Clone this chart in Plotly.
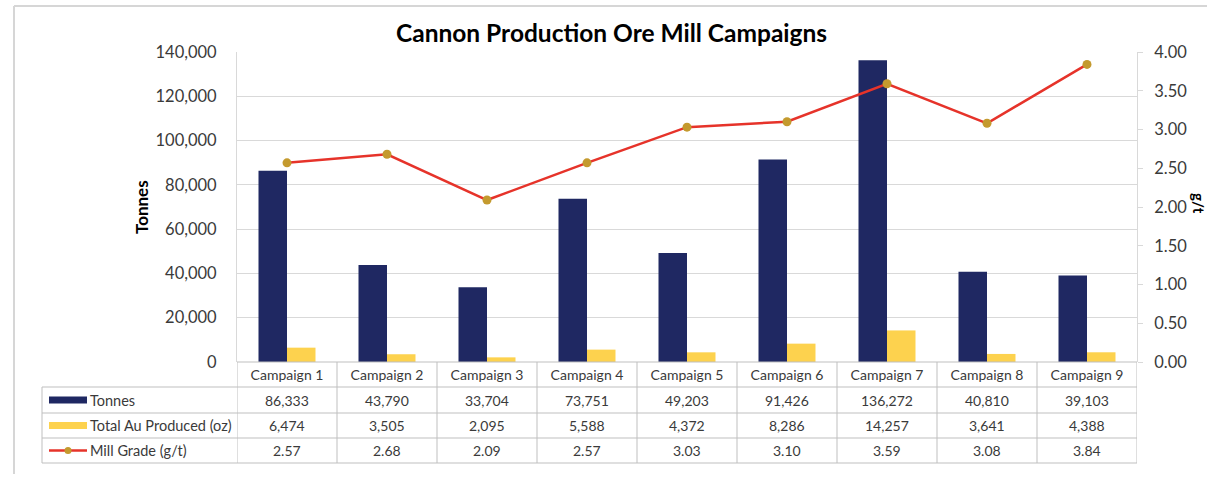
import plotly.graph_objects as go

# ---------------- data ----------------
categories = ["Campaign 1", "Campaign 2", "Campaign 3", "Campaign 4", "Campaign 5",
              "Campaign 6", "Campaign 7", "Campaign 8", "Campaign 9"]
tonnes = [86333, 43790, 33704, 73751, 49203, 91426, 136272, 40810, 39103]
gold_oz = [6474, 3505, 2095, 5588, 4372, 8286, 14257, 3641, 4388]
grade = [2.57, 2.68, 2.09, 2.57, 3.03, 3.10, 3.59, 3.08, 3.84]
series_names = ["Tonnes", "Total Au Produced (oz)", "Mill Grade (g/t)"]
left_ticks = [0, 20000, 40000, 60000, 80000, 100000, 120000, 140000]
right_ticks = [0, 0.5, 1.0, 1.5, 2.0, 2.5, 3.0, 3.5, 4.0]

# ---------------- style / layout ----------------
W, H = 1207, 477
L, R, T, B = 237, 1137, 52, 362
FONT = "Lato"
NAVY = "#1F2862"
YELLOW = "#FDD24E"
RED = "#E6332A"
MARK = "#C49A2E"
GRID = "#D9D9D9"
TXT = "#3A3A3A"
TLINE = "#BFBFBF"


def px(x):
    return (x - L) / (R - L)


def py(y):
    return (B - y) / (B - T)


fig = go.Figure()
fig.add_trace(go.Bar(x=categories, y=tonnes, name=series_names[0],
                     marker=dict(color=NAVY, line=dict(width=0))))
fig.add_trace(go.Bar(x=categories, y=gold_oz, name=series_names[1],
                     marker=dict(color=YELLOW, line=dict(width=0))))
fig.add_trace(go.Scatter(x=categories, y=grade, name=series_names[2], yaxis="y2",
                         mode="lines+markers",
                         line=dict(color=RED, width=2.5),
                         marker=dict(color=MARK, size=9)))

shapes = []
annotations = []

# outer chart border (left and top edges visible)
shapes.append(dict(type="line", xref="paper", yref="paper", x0=px(14), x1=px(W + 5),
                   y0=py(6), y1=py(6), line=dict(color="#D6D6D6", width=2)))
shapes.append(dict(type="line", xref="paper", yref="paper", x0=px(14), x1=px(14),
                   y0=py(6), y1=py(474), line=dict(color="#D6D6D6", width=2)))

# data table grid
row_y = [387, 413, 438, 463]
shapes.append(dict(type="line", xref="paper", yref="paper", x0=0, x1=1,
                   y0=py(362), y1=py(362), line=dict(color=TLINE, width=1)))
for y in row_y:
    shapes.append(dict(type="line", xref="paper", yref="paper", x0=px(42), x1=1,
                       y0=py(y), y1=py(y), line=dict(color=TLINE, width=1)))
shapes.append(dict(type="line", xref="paper", yref="paper", x0=px(42), x1=px(42),
                   y0=py(387), y1=py(463), line=dict(color=TLINE, width=1)))
for k in range(len(categories) + 1):
    shapes.append(dict(type="line", xref="x", yref="paper", x0=k - 0.5, x1=k - 0.5,
                       y0=py(362), y1=py(463), line=dict(color=TLINE, width=1)))

# legend keys in table
row_mid = [(387 + 413) / 2, (413 + 438) / 2, (438 + 463) / 2]
shapes.append(dict(type="rect", xref="paper", yref="paper", x0=px(49), x1=px(87),
                   y0=py(row_mid[0] - 3.5), y1=py(row_mid[0] + 3.5),
                   fillcolor=NAVY, line=dict(width=0)))
shapes.append(dict(type="rect", xref="paper", yref="paper", x0=px(49), x1=px(87),
                   y0=py(row_mid[1] - 3.5), y1=py(row_mid[1] + 3.5),
                   fillcolor=YELLOW, line=dict(width=0)))
shapes.append(dict(type="line", xref="paper", yref="paper", x0=px(49), x1=px(87),
                   y0=py(row_mid[2]), y1=py(row_mid[2]),
                   line=dict(color=RED, width=2.5)))
shapes.append(dict(type="circle", xref="paper", yref="paper", x0=px(64.5), x1=px(71.5),
                   y0=py(row_mid[2] + 3.5), y1=py(row_mid[2] - 3.5),
                   fillcolor=MARK, line=dict(width=0)))

for name, ym in zip(series_names, row_mid):
    annotations.append(dict(text=name, xref="paper", yref="paper", x=px(88), y=py(ym),
                            xanchor="left", yanchor="middle", showarrow=False,
                            font=dict(family=FONT, size=14.5, color=TXT)))

row_texts = [
    [f"{v:,}" for v in tonnes],
    [f"{v:,}" for v in gold_oz],
    [f"{v:.2f}" for v in grade],
]
for texts, ym in zip(row_texts, row_mid):
    for c, t in zip(categories, texts):
        annotations.append(dict(text=t, xref="x", yref="paper", x=c, y=py(ym),
                                xanchor="center", yanchor="middle", showarrow=False,
                                font=dict(family=FONT, size=14, color=TXT)))

# titles
annotations.append(dict(text="<b>Cannon Production Ore Mill Campaigns</b>",
                        xref="paper", yref="paper", x=px(611), y=py(32),
                        xanchor="center", yanchor="middle", showarrow=False,
                        font=dict(family=FONT, size=24.5, color="#000000")))
annotations.append(dict(text="<b>Tonnes</b>", xref="paper", yref="paper",
                        x=px(141), y=py(207), textangle=-90,
                        xanchor="center", yanchor="middle", showarrow=False,
                        font=dict(family=FONT, size=17, color="#000000")))
annotations.append(dict(text="<b>g/t</b>", xref="paper", yref="paper",
                        x=px(1199), y=py(203), textangle=90,
                        xanchor="center", yanchor="middle", showarrow=False,
                        font=dict(family=FONT, size=15, color="#000000")))

fig.update_layout(
    width=W, height=H,
    margin=dict(l=L, r=W - R, t=T, b=H - B, pad=0),
    paper_bgcolor="white", plot_bgcolor="white",
    barmode="group", bargap=0.43, bargroupgap=0,
    showlegend=False,
    font=dict(family=FONT, color=TXT),
    xaxis=dict(type="category", range=[-0.5, len(categories) - 0.5],
               showline=False, showgrid=False, ticks="",
               tickfont=dict(family=FONT, size=14, color=TXT),
               ticklabelstandoff=3),
    yaxis=dict(range=[0, 140000], tickvals=left_ticks,
               ticktext=[f"{v:,}" for v in left_ticks],
               showgrid=True, gridcolor=GRID, gridwidth=1,
               showline=True, linecolor=GRID, linewidth=1,
               zeroline=False, ticks="",
               tickfont=dict(family=FONT, size=16.5, color=TXT),
               ticklabelstandoff=16),
    yaxis2=dict(range=[0, 4], tickvals=right_ticks,
                ticktext=[f"{v:.2f}" for v in right_ticks],
                overlaying="y", side="right", showgrid=False, zeroline=False,
                showline=True, linecolor=GRID, linewidth=1,
                ticks="outside", ticklen=5, tickcolor=GRID,
                tickfont=dict(family=FONT, size=16.5, color=TXT),
                ticklabelstandoff=8),
    shapes=shapes,
    annotations=annotations,
)

fig.write_html("out.html")
